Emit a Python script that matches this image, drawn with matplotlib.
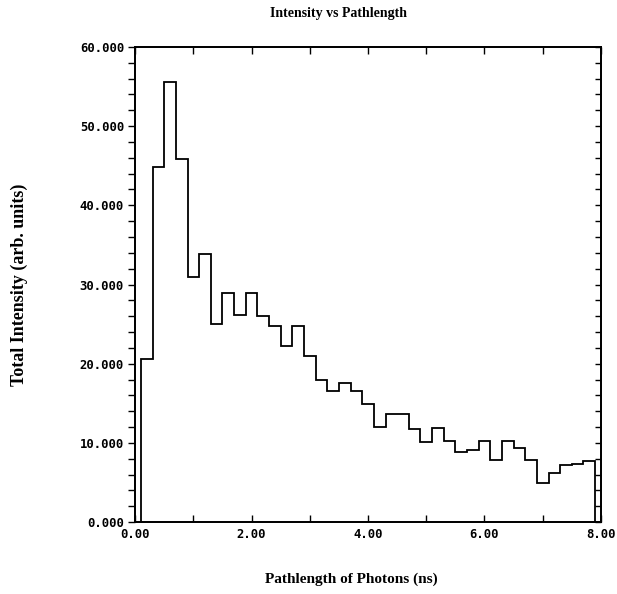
import numpy as np
import matplotlib
matplotlib.use('Agg')
import matplotlib.pyplot as plt
from matplotlib.ticker import MultipleLocator

# intensity per pathlength bin (0.2 ns wide, first bin starts at 0.1 ns)
bin_start = 0.1
bin_width = 0.2
intensity = [20.6, 44.8, 55.6, 45.9, 30.9, 33.8, 25.0, 28.9, 26.2, 28.9,
             26.0, 24.8, 22.3, 24.8, 21.0, 18.0, 16.5, 17.6, 16.5, 14.9,
             12.0, 13.7, 13.6, 11.7, 10.1, 11.9, 10.2, 8.9, 9.1, 10.3,
             7.8, 10.3, 9.3, 7.8, 5.0, 6.2, 7.2, 7.4, 7.7]
edges = bin_start + bin_width * np.arange(len(intensity) + 1)

x_ticks = [0, 2, 4, 6, 8]
y_ticks = [0, 10, 20, 30, 40, 50, 60]

tick_font = {'family': 'DejaVu Sans Mono', 'weight': 'bold', 'size': 8.8}
label_font = {'family': 'Liberation Serif', 'weight': 'bold', 'size': 10}

fig = plt.figure(figsize=(6.17, 5.94), dpi=100)
ax = fig.add_axes([0.219, 0.121, 0.755, 0.800])

ax.stairs(intensity, edges, baseline=0, color='black', linewidth=1.3)

ax.set_xlim(0, 8)
ax.set_ylim(0, 60)
ax.set_xticks(x_ticks)
ax.set_xticklabels(['%.2f' % v for v in x_ticks], fontdict=tick_font)
ax.set_yticks(y_ticks)
ax.set_yticklabels(['%.3f' % v for v in y_ticks], fontdict=tick_font)
ax.xaxis.set_minor_locator(MultipleLocator(1))
ax.yaxis.set_minor_locator(MultipleLocator(2))

# left ticks point out, bottom/top point in
ax.tick_params(axis='y', which='both', direction='out', length=5, width=1, pad=3)
ax.tick_params(axis='x', which='both', direction='in', top=True, length=5,
               width=1, pad=4)

# right side ticks point inward, no labels
ax_r = ax.twinx()
ax_r.set_ylim(0, 60)
ax_r.yaxis.set_major_locator(MultipleLocator(2))
ax_r.tick_params(axis='y', direction='in', length=4, width=1, labelright=False)

for a in (ax, ax_r):
    for s in a.spines.values():
        s.set_linewidth(1.3)

fig.text(0.548, 0.978, 'Intensity vs Pathlength', ha='center', va='center',
         fontdict=label_font)
fig.text(0.57, 0.024, 'Pathlength of Photons (ns)', ha='center', va='center',
         fontdict=dict(label_font, size=11))
fig.text(0.032, 0.52, 'Total Intensity (arb. units)', ha='center', va='center',
         rotation=90, fontdict=dict(label_font, size=13))

fig.savefig('out.png', dpi=100)
